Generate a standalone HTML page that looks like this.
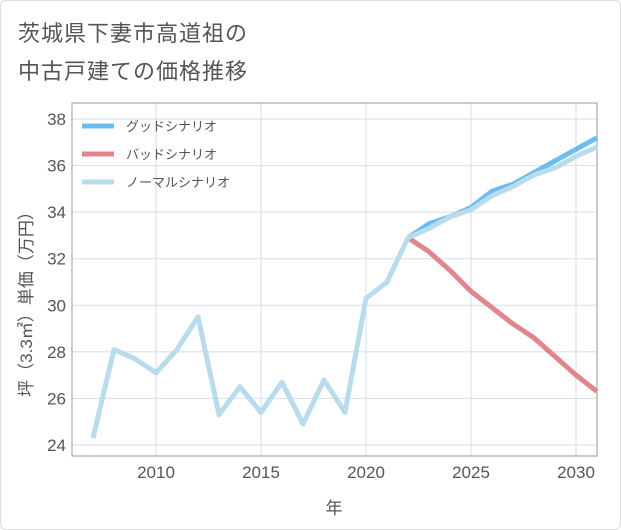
<!DOCTYPE html>
<html><head><meta charset="utf-8"><style>
body{margin:0;background:#fff;}
#wrap{position:relative;width:621px;height:530px;font-family:"Liberation Sans","Noto Sans CJK JP",sans-serif;}
#frame{position:absolute;left:0;top:0;width:619px;height:528px;border:1px solid #ddd;border-radius:6px;}
.title{position:absolute;left:18px;font-size:22px;color:#555;letter-spacing:1px;}
</style></head><body>
<div id="wrap">
<div id="frame"></div>
<div class="title" style="top:16px">茨城県下妻市高道祖の</div>
<div class="title" style="top:54px">中古戸建ての価格推移</div>
<svg id="chart" width="621" height="530" style="position:absolute;left:0;top:0"></svg>
</div>
<script>
const years=[2007,2008,2009,2010,2011,2012,2013,2014,2015,2016,2017,2018,2019,2020,2021,2022];
const history=[24.3,28.1,27.7,27.1,28.1,29.5,25.3,26.5,25.4,26.7,24.9,26.8,25.4,30.3,31.0,32.9];
const futureYears=[2022,2023,2024,2025,2026,2027,2028,2029,2030,2031];
const goodValues=[32.9,33.5,33.8,34.2,34.9,35.2,35.7,36.2,36.7,37.2];
const badValues=[32.9,32.3,31.5,30.6,29.9,29.2,28.6,27.8,27.0,26.3];
const normalValues=[32.9,33.3,33.8,34.1,34.7,35.1,35.6,35.9,36.4,36.8];
const xTicks=[2010,2015,2020,2025,2030];
const yTicks=[24,26,28,30,32,34,36,38];
const svg=document.getElementById('chart');
const NS='http://www.w3.org/2000/svg';
const L=72,R=597,T=103,B=456;
const x=v=>156+(v-2010)*21;
const y=v=>445-(v-24)*(326/14);
function mk(tag,attrs,parent){const e=document.createElementNS(NS,tag);for(const k in attrs)e.setAttribute(k,attrs[k]);(parent||svg).appendChild(e);return e;}
for(const t of yTicks){const l=mk('line',{x1:L,x2:R,y1:y(t),y2:y(t),stroke:'#d5dde8','stroke-width':1});


const tx=mk('text',{x:L-6,y:y(t)+6,'text-anchor':'end','font-size':17,fill:'#555'});tx.textContent=t;

}
for(const t of xTicks){const l=mk('line',{x1:x(t),x2:x(t),y1:T,y2:B,stroke:'#d5dde8','stroke-width':1});


const tx=mk('text',{x:x(t),y:B+22,'text-anchor':'middle','font-size':17,fill:'#555'});tx.textContent=t;

}
const border=mk('rect',{x:L,y:T,width:R-L,height:B-T,fill:'none',stroke:'#999','stroke-width':1});


function line(xs,vs,color,w,name){const p=mk('polyline',{points:xs.map((yr,i)=>x(yr)+','+y(vs[i])).join(' '),fill:'none',stroke:color,'stroke-width':w,'stroke-linejoin':'round'});

}
line(futureYears,goodValues,'#6bbcf0',5,'good-scenario-line');
line(futureYears,badValues,'#e0868f',5,'bad-scenario-line');
line(futureYears,normalValues,'#b8dcec',5,'normal-scenario-line');
line(years,history,'#b8dcec',5,'history-line');
const leg=[['グッドシナリオ','#6bbcf0'],['バッドシナリオ','#e0868f'],['ノーマルシナリオ','#b8dcec']];
leg.forEach((d,i)=>{const yy=126+i*28;
const l=mk('line',{x1:82,x2:114,y1:yy,y2:yy,stroke:d[1],'stroke-width':5});


const t=mk('text',{x:126,y:yy+5,'font-size':13,fill:'#555'});t.textContent=d[0];

});
const xt=mk('text',{x:334,y:514,'text-anchor':'middle','font-size':17,fill:'#555'});xt.textContent='年';


const yt=mk('text',{x:0,y:0,'text-anchor':'middle','font-size':17,fill:'#555',transform:'translate(32,300) rotate(-90)'});yt.textContent='坪（3.3㎡）単価（万円）';


</script>
</body></html>
